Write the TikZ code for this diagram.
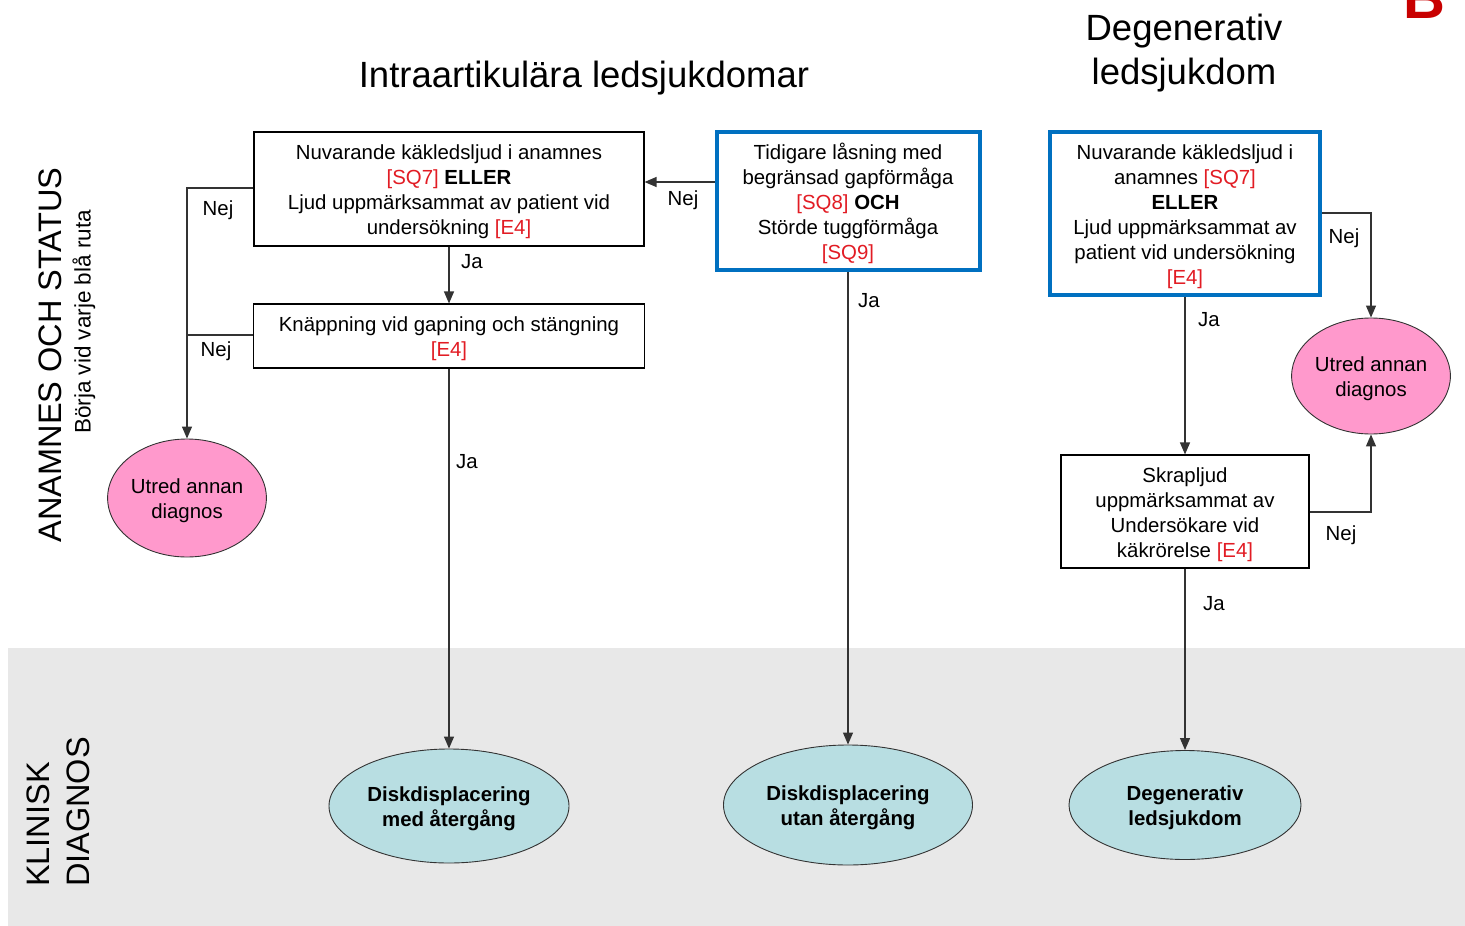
\documentclass[tikz,border=0pt]{standalone}
\usepackage{fontspec}
\setmainfont{Liberation Sans}
\usetikzlibrary{arrows.meta,shapes.geometric}

\definecolor{refred}{RGB}{226,28,36}
\definecolor{boxblue}{RGB}{0,112,192}
\definecolor{pinkfill}{RGB}{255,153,204}
\definecolor{cyanfill}{RGB}{184,222,226}
\definecolor{bandgray}{RGB}{232,232,232}
\definecolor{darkred}{RGB}{200,0,0}

\newcommand{\rf}[1]{\textcolor{refred}{#1}}
% a tall invisible strut on the first line lowers the text block inside its shape
\newcommand{\ts}{\rule{0pt}{21pt}}

\tikzset{
  txt/.style={font=\fontsize{20.4}{25}\selectfont, align=center},
  plainbox/.style={txt, draw=black, line width=1.1pt, fill=white, inner sep=0pt},
  bluebox/.style={txt, draw=boxblue, line width=4pt, fill=white, inner sep=0pt},
  pinkoval/.style={txt, ellipse, draw=black!80, line width=0.9pt, fill=pinkfill, inner sep=0pt},
  diagoval/.style={ellipse, draw=black!80, line width=0.9pt, fill=cyanfill, inner sep=0pt,
    align=center, font=\fontsize{20.4}{25}\selectfont\bfseries},
  conn/.style={draw=black!80, line width=1.2pt},
  arr/.style={conn, -{Triangle[length=12pt,width=10pt]}},
  lbl/.style={font=\fontsize{20.4}{25}\selectfont, inner sep=0pt},
  head/.style={font=\fontsize{36.5}{44}\selectfont, align=center, inner sep=0pt},
  side/.style={font=\fontsize{32.5}{40}\selectfont, rotate=90, inner sep=0pt}
}

\begin{document}
\begin{tikzpicture}[x=1pt, y=-1pt]
\useasboundingbox (0,0) rectangle (1465,926);

% lower band for the clinical diagnoses
\fill[bandgray] (8,648) rectangle (1465,926);

% corner letter
\node[font=\fontsize{58}{58}\selectfont\bfseries, text=darkred, anchor=base, inner sep=0pt] (corner) at (1424,18) {B};

% headings
\node[head] (hIntra) at (584,78) {Intraartikulära ledsjukdomar};
\node[head] (hDeg) at (1184,53) {Degenerativ\\ledsjukdom};

% side headings
\node[side] (sAnam) at (50,355) {ANAMNES OCH STATUS};
\node[font=\fontsize{22.5}{26}\selectfont, rotate=90, inner sep=0pt] (sStart) at (84,322) {Börja vid varje blå ruta};
\node[side, align=left] (sKlin) at (58,812) {KLINISK\\DIAGNOS};

% question boxes
\node[plainbox, minimum width=390pt, minimum height=114pt] (b1) at (449,189)
  {\ts Nuvarande käkledsljud i anamnes\\ \rf{[SQ7]} \textbf{ELLER}\\ Ljud uppmärksammat av patient vid\\ undersökning \rf{[E4]}};
\node[plainbox, minimum width=391pt, minimum height=64pt] (b2) at (449,336)
  {\ts Knäppning vid gapning och stängning\\ \rf{[E4]}};
\node[bluebox, minimum width=263pt, minimum height=138pt] (mid) at (848,201)
  {\ts Tidigare låsning med\\ begränsad gapförmåga\\ \rf{[SQ8]} \textbf{OCH}\\ Störde tuggförmåga\\ \rf{[SQ9]}};
\node[bluebox, minimum width=270pt, minimum height=163pt] (rb) at (1185,213.5)
  {\ts Nuvarande käkledsljud i\\ anamnes \rf{[SQ7]}\\ \textbf{ELLER}\\ Ljud uppmärksammat av\\ patient vid undersökning\\ \rf{[E4]}};
\node[plainbox, minimum width=248pt, minimum height=113pt] (rb2) at (1185,511.5)
  {\ts Skrapljud\\ uppmärksammat av\\ Undersökare vid\\ käkrörelse \rf{[E4]}};

% other diagnoses
\node[pinkoval, minimum width=152pt, minimum height=118pt] (lp) at (187,498) {\ts Utred annan\\ diagnos};
\node[pinkoval, minimum width=151pt, minimum height=116pt] (rp) at (1371,376) {\ts Utred annan\\ diagnos};

% clinical diagnoses
\node[diagoval, minimum width=240pt, minimum height=114pt] (d1) at (449,806) {\ts Diskdisplacering\\ med återgång};
\node[diagoval, minimum width=249pt, minimum height=120pt] (d2) at (848,805) {\ts Diskdisplacering\\ utan återgång};
\node[diagoval, minimum width=232pt, minimum height=109pt] (d3) at (1185,805) {\ts Degenerativ\\ ledsjukdom};

% junction points
\coordinate (jMid) at (700,182);
\coordinate (jL1) at (187,188);
\coordinate (jL2) at (187,335);
\coordinate (jR1) at (1371,213);
\coordinate (jR2) at (1371,512);

% connectors
\draw[arr] (mid.west |- jMid) -- (b1.east |- jMid);
\draw[arr] (b1.south) -- (b2.north);
\draw[arr] (b1.west |- jL1) -- (jL1) -- (lp.north);
\draw[conn] (b2.west |- jL2) -- (jL2);
\draw[arr] (b2.south) -- (d1.north);
\draw[arr] (mid.south) -- (d2.north);
\draw[arr] (rb.east |- jR1) -- (jR1) -- (rp.north);
\draw[arr] (rb.south) -- (rb2.north);
\draw[arr] (rb2.east |- jR2) -- (jR2) -- (rp.south);
\draw[arr] (rb2.south) -- (d3.north);

% answer labels
\node[lbl] (n1) at (683,200) {Nej};
\node[lbl] (n2) at (218,210) {Nej};
\node[lbl] (n3) at (216,351) {Nej};
\node[lbl] (n4) at (1344,238) {Nej};
\node[lbl] (n5) at (1341,535) {Nej};
\node[lbl] (y1) at (472,262) {Ja};
\node[lbl] (y2) at (467,462) {Ja};
\node[lbl] (y3) at (869,301) {Ja};
\node[lbl] (y4) at (1209,320) {Ja};
\node[lbl] (y5) at (1214,604) {Ja};
\end{tikzpicture}
\end{document}
